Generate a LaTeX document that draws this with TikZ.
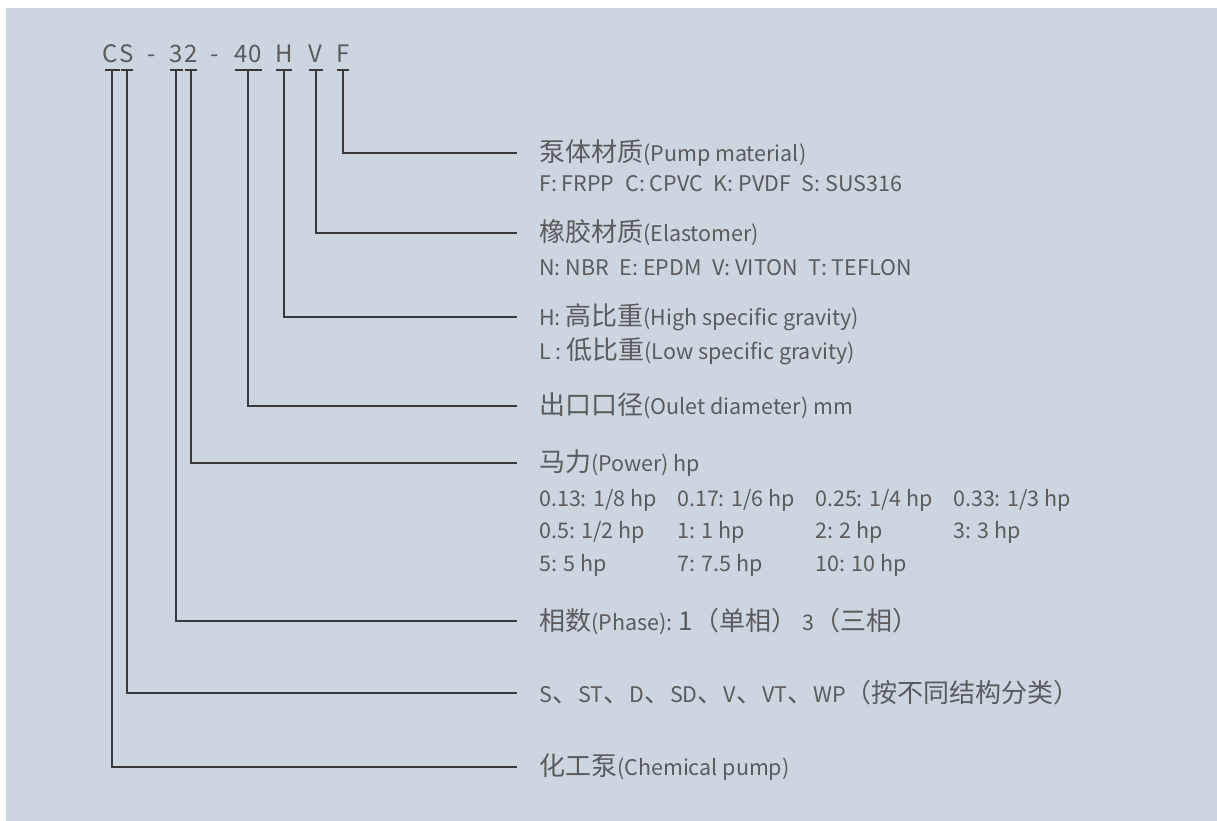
\documentclass[tikz,border=0pt]{standalone}
\usepackage{fontspec}
\setmainfont{Noto Sans CJK SC}
\usetikzlibrary{positioning}
\definecolor{panel}{HTML}{CCD6E0}
\definecolor{ink}{HTML}{5A5B5D}
\definecolor{rule}{HTML}{3A3A3C}
\newcommand\hanzi[1]{{\fontsize{26}{28}\selectfont #1}}

\begin{document}
\begin{tikzpicture}
 [ x=1pt, y=-1pt
 , every node/.style={text=ink, inner sep=0pt, font=\fontsize{21.5}{23}\selectfont}
 , code/.style={anchor=base, font=\fontsize{24}{26}\selectfont}
 , desc/.style={anchor=west}
 , lead/.style={draw=rule, line width=1.4pt}
 ]
  \useasboundingbox (0,0) rectangle (1217,821);
  \fill[panel] (6,8) rectangle (1217,821);

  % model code
  \node[code] (c) at (110,63) {C};
  \node[code] (s) at (127,63) {S};
  \node[code] (d1) at (152,63) {-};
  \node[code] (p) at (176,63) {3};
  \node[code] (w) at (191,63) {2};
  \node[code] (d2) at (215,63) {-};
  \node[code] (o) at (248,63) {40};
  \node[code] (h) at (284,63) {H};
  \node[code] (e) at (315,63) {V};
  \node[code] (f) at (343,63) {F};

  % descriptions
  \node[desc] (material) at (539,153) {\hanzi{泵体材质}(Pump material)};
  \node[desc] (materialsub) at (539,184) {F: FRPP\enspace C: CPVC\enspace K: PVDF\enspace S: SUS316};
  \node[desc] (elastomer) at (539,233) {\hanzi{橡胶材质}(Elastomer)};
  \node[desc] (elastomersub) at (539,268) {N: NBR\enspace E: EPDM\enspace V: VITON\enspace T: TEFLON};
  \node[desc] (gravity) at (539,317) {H: \hanzi{高比重}(High specific gravity)};
  \node[desc] (gravitylow) at (539,351) {L : \hanzi{低比重}(Low specific gravity)};
  \node[desc] (outlet) at (539,406) {\hanzi{出口口径}(Oulet diameter) mm};
  \node[desc] (power) at (539,463) {\hanzi{马力}(Power) hp};
  \foreach \cells [count=\r] in
    {{0.13: 1/8 hp,0.17: 1/6 hp,0.25: 1/4 hp,0.33: 1/3 hp},
     {0.5: 1/2 hp,1: 1 hp,2: 2 hp,3: 3 hp},
     {5: 5 hp,7: 7.5 hp,10: 10 hp}}
    \foreach \cell [count=\k] in \cells
      \node[desc] (hp-\r-\k) at ({539+(\k-1)*138},{500+(\r-1)*32.5}) {\cell};
  \node[desc] (phase) at (539,621) {\hanzi{相数}(Phase): \hanzi{1（单相）} 3\hanzi{（三相）}};
  \node[desc] (series) at (539,693) {S\hanzi{、}ST\hanzi{、}D\hanzi{、}SD\hanzi{、}V\hanzi{、}VT\hanzi{、}WP\hanzi{（按不同结构分类）}};
  \node[desc] (pump) at (539,767) {\hanzi{化工泵}(Chemical pump)};

  % ticks and leaders
  \foreach \ch/\x/\half/\to in
    {c/112/7.5/pump, s/127/6/series, p/176/6.5/phase, w/191/6/power,
     o/248/13.5/outlet, h/284/8/gravity, e/316/7/elastomer, f/343/6/material}
  {
    \coordinate (t-\ch) at (\x,70);
    \draw[lead] ([xshift=-\half pt]t-\ch) -- ([xshift=\half pt]t-\ch);
    \draw[lead] (t-\ch) |- ([xshift=-22pt]\to.west);
  }
\end{tikzpicture}
\end{document}
